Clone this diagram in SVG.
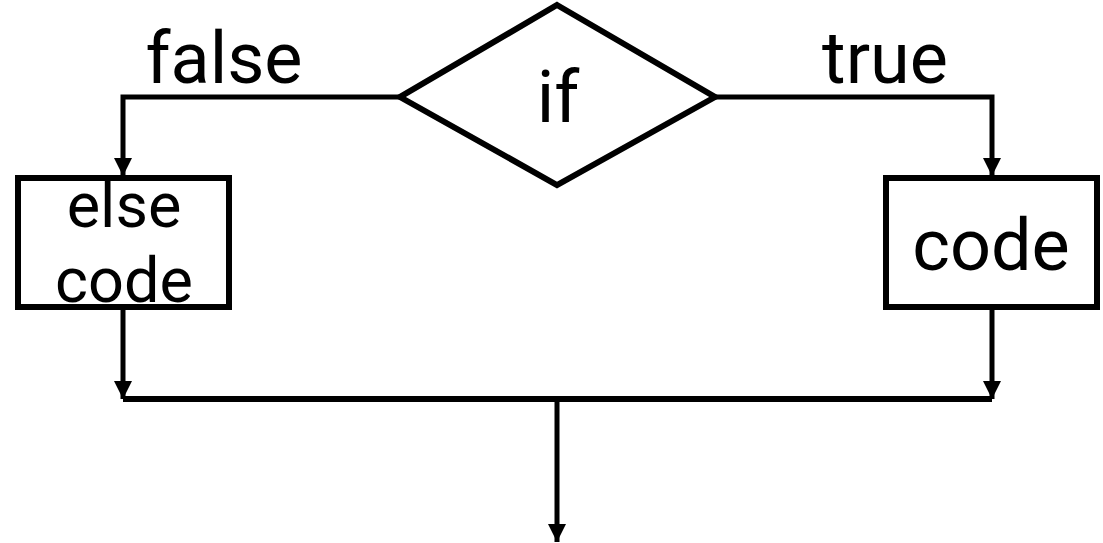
<svg xmlns="http://www.w3.org/2000/svg" width="1103" height="543" viewBox="0 0 1103 543">
  <style>
    .shape { fill: #ffffff; stroke: #000000; stroke-width: 6; }
    .conn { fill: none; stroke: #000000; stroke-width: 5; }
    .lbl { font-family: Roboto, "Liberation Sans", sans-serif; fill: #000000; text-anchor: middle; }
  </style>
  <defs>
    <marker id="arrow" markerUnits="userSpaceOnUse" markerWidth="18" markerHeight="18" viewBox="0 0 18 18" refX="18" refY="9" orient="auto">
      <path d="M0,0 L18,9 L0,18 Z" fill="#000000"/>
    </marker>
  </defs>
  <rect width="1103" height="543" fill="#ffffff"/>
  <g id="connectors">
    <polyline class="conn" points="400,97 123,97 123,176" marker-end="url(#arrow)"/>
    <polyline class="conn" points="715,97 992,97 992,176" marker-end="url(#arrow)"/>
    <line class="conn" x1="123" y1="307" x2="123" y2="399" marker-end="url(#arrow)"/>
    <line class="conn" x1="992" y1="307" x2="992" y2="399" marker-end="url(#arrow)"/>
    <line class="conn" x1="123" y1="399" x2="992" y2="399" style="stroke-width:6"/>
    <line class="conn" x1="557" y1="399" x2="557" y2="542" marker-end="url(#arrow)"/>
  </g>
  <g id="label-false">
    <text class="lbl" x="224" y="83" font-size="72">false</text>
  </g>
  <g id="label-true">
    <text class="lbl" x="885" y="83" font-size="72">true</text>
  </g>
  <g id="node-if">
    <polygon class="shape" points="557,5 715,97 557,185 400,97"/>
    <text class="lbl" x="558" y="122" font-size="72">if</text>
  </g>
  <g id="node-else">
    <rect class="shape" x="18" y="178" width="211" height="129"/>
    <text class="lbl" x="124" y="227" font-size="63">else</text>
    <text class="lbl" x="124" y="302" font-size="63">code</text>
  </g>
  <g id="node-code">
    <rect class="shape" x="886" y="178" width="211" height="129"/>
    <text class="lbl" x="991" y="270" font-size="72">code</text>
  </g>
</svg>
